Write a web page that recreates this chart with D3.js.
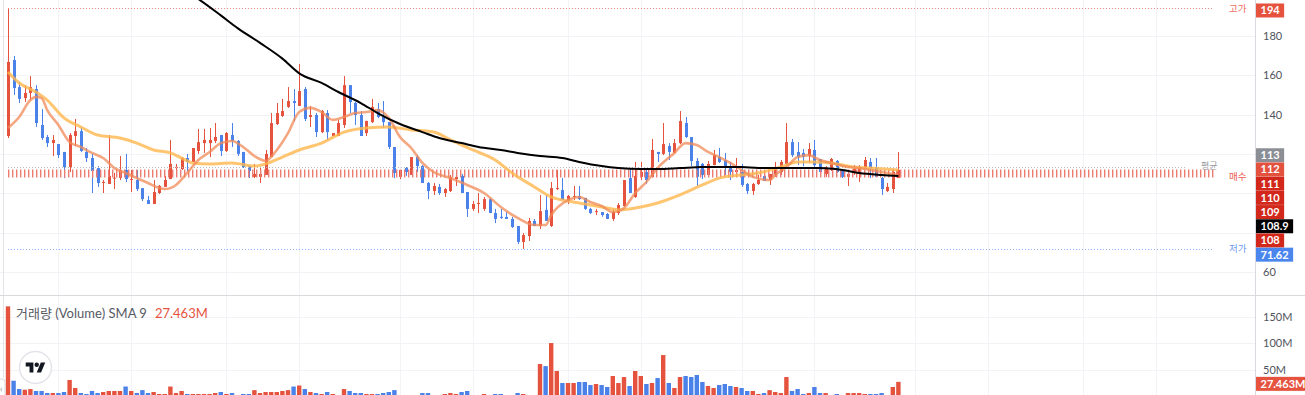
<!DOCTYPE html>
<html>
<head>
<meta charset="utf-8">
<script src="https://cdn.jsdelivr.net/npm/d3@7"></script>
<style>
  body { margin: 0; background: #fff; }
  svg { display: block; font-family: Lato, "Noto Sans CJK KR", sans-serif; }
</style>
</head>
<body>
<svg id="chart" width="1305" height="395"></svg>
<script>
// daily candles, oldest first
const opens = [
  129.1,167.8,154,148.4,151,153,134.7,128.6,125.5,125,
  121,113.3,129.1,131.6,121,117.9,112.8,105.2,104.7,107.5,
  107.8,111.8,106.7,106.7,102.6,96.5,94.5,100.1,103.2,107.2,
  112.8,112.3,117.9,115.9,121.5,125.5,125.5,126.6,129.6,121.5,
  129.6,126.6,121,113.8,108.3,108.3,109.3,118.4,135.2,139.3,
  143.9,146.9,144.4,153,138.8,139.8,131.1,140.8,129.1,129.1,
  134.7,155,145.9,139.8,130.6,136.2,142.8,138.8,136.2,123.5,
  108.3,112.8,109.3,118.4,113.8,105.2,101.1,103.2,100.1,101.1,
  107.2,108.8,100.6,92,94.5,92,97,89.9,88,87.9,
  86.9,83.3,75.2,78.2,85.9,83.3,91.5,83.3,102.1,101.6,
  96.5,98.1,98.6,97.6,92,90.4,90.4,89.4,86.9,89.9,
  93.5,107.7,98.1,108.3,110.8,108.3,121,120,124,120.5,
  125.5,135.7,128.6,116.4,114.9,109.3,114.3,118.4,116.9,113.3,
  110.8,110.8,104.7,101.1,104.7,108.8,106.7,109.3,110.8,114.9,
  126,121,120.5,118.9,122,117.4,109.8,111.8,116.4,111.3,
  108.3,110.8,109.8,113.3,115.9,112.8,107.7,101.1,102.1,107.7
];
const highs = [
  194,169.8,156.6,155,159.6,155,142.8,129.6,129.6,125,
  121,130.6,137.8,133.7,123,120,113.8,106.7,129.6,110.3,
  118.9,120,111.8,111.8,102.6,98.6,106.7,104.2,108.8,127.1,
  114.9,118.4,120,123,132.7,132.7,133.2,135.7,129.6,131.1,
  135.7,127.1,121,114.3,114.9,112.8,122,140.8,145.9,148,
  154,153,165.8,154,144.4,140.8,142.3,142.3,130.6,137.3,
  159.6,155,146.4,141.8,136.8,148,145.9,146.9,136.2,123.5,
  111.8,113.3,118.4,119.4,114.3,105.7,105.2,104.7,102.6,109.3,
  110.3,109.8,100.6,96,100.1,98.1,97.6,92,92,90.4,
  87.9,83.3,79.7,87.4,86.9,99.1,99.1,105.7,111.8,107.7,
  99.1,103.7,103.7,97.6,92.5,92,90.4,89.9,92,95,
  106.7,112.8,115.9,115.9,112.3,127.6,121,135.7,125.5,127.6,
  141.8,138.8,128.6,117.9,115.4,116.4,122,123,120.5,115.9,
  117.9,114.9,105.2,105.2,109.3,108.8,109.8,115.9,116.9,135.7,
  127.6,126,122.5,125.5,127.1,117.4,113.8,117.9,116.9,111.3,
  110.8,114.3,114.3,118.4,117.9,117.9,108.3,105.2,112.3,121
];
const lows = [
  128.1,150,145.9,146.4,147.4,133.7,127.1,123.5,118.9,117.9,
  107.7,110.8,124,121,115.9,100.1,103.2,100.1,104.7,102.1,
  106.7,105.7,100.6,101.1,96,94.5,94.5,99.6,103.2,107.2,
  108.3,111.8,111.3,115.9,120,120.5,118.4,125.5,118.9,121,
  123.5,118.9,112.8,107.7,107.7,105.2,109.3,118.4,134.7,138.8,
  143.4,136.7,144.4,136.7,133.7,128.6,130.6,127.1,129.1,129.1,
  133.2,140.8,134.7,129.1,129.1,135.7,138.2,133.2,122.5,107.7,
  107.2,108.8,109.3,110.8,105.2,97,99.1,99.1,98.1,100.6,
  103.7,100.1,87.9,91,89.9,91,89.9,84.8,86.9,86.9,
  82.3,74.1,71.62,75.7,83.3,81.8,85.9,82.8,101.6,96.5,
  94.5,96.5,96.5,91.5,89.4,88.9,88,86.9,85.9,88.9,
  93,100.1,97.6,106.7,104.7,108,115.9,119.4,116.9,120.5,
  125,128.1,113.8,103.7,107.2,109.3,114.3,115.4,109.3,106.7,
  109.8,103.2,99.6,99.1,104.2,106.2,104.2,108.3,109.3,114.3,
  118.4,114.3,113.8,115.4,113.3,110.3,108.3,111.3,110.3,107.7,
  103.7,109.3,105.7,112.8,107.7,108.3,99.1,100.6,100.1,107.7
];
const closes = [
  166.8,153.5,148,151,154,135.7,128.1,125.5,127.1,119.4,
  113.3,129.6,131.6,121.5,117.9,111.3,105.2,105.7,108.8,107.9,
  111.8,107.2,107.2,102.1,97,94.5,100.6,103.7,106.7,114.9,
  113.3,117.9,115.9,123,126,127.1,127.1,128.6,121.5,130.6,
  126.6,120,113.3,111.3,109.8,109.8,120,135.7,140.8,141.8,
  146.9,145.9,152,137.8,139.8,131.1,141.8,131.1,130.6,135.7,
  155,146.4,139.8,129.1,136.8,143.9,138.8,136.2,123.5,110.3,
  111.8,110.8,118.4,113.8,105.2,101.1,103.7,100.1,102.1,108.3,
  108.3,100.1,92,94.5,95,97,89.9,86.9,87.4,86.9,
  82.8,75.2,78.7,85.9,83.3,90.9,85.9,102.6,102.6,96.5,
  98.6,98.6,97,92,89.9,90.9,88.9,86.9,90.4,94,
  106.7,100.1,108.8,110.8,106.7,122,120,125,121,125.5,
  136.7,128.6,116.4,108.3,109.3,114.9,119.4,115.9,112.8,110.8,
  111.8,104.2,101.1,104.7,106.7,106.2,109.8,113.3,115.9,126,
  119.4,118.4,118.4,122.5,114.3,110.8,113.3,117.4,110.8,108.3,
  109.8,112.3,112.8,116.9,112.8,108.3,102.1,103.2,110.8,111.8
];
// volume in millions
const volumes = [
  169,29.6,14,12.7,14,10.3,10.3,6.5,6.5,6.5,
  8.4,31,16,6.5,4.7,10.3,6.5,8.4,10.3,10.3,
  10.3,18.7,10.3,6.5,12,6.5,8.4,4.7,4.7,18.7,
  6.5,10.3,4.7,4.7,4.7,4.7,4.7,6.5,8.4,4.7,
  6.5,2,4.7,4.7,12,6.5,8.4,8.4,8.4,10.3,
  12,18.7,20.6,14,8.4,6.5,4.7,8.4,4.7,2,
  14,10.3,6.5,6.5,4.7,4.7,4.7,6.5,8.4,12,
  1.5,1.5,1.5,1.5,6.5,6.5,1.5,1.5,4.7,6.5,
  4.7,8.4,10.3,1.5,1.5,4.7,1.5,4.7,4.7,1.5,
  1.5,6.5,4.7,1.5,1.5,60.9,57,100.2,47.8,25.3,
  25.3,25.3,27.2,27.2,21.5,23.4,21.5,17.8,38.4,25.3,
  36.5,19.7,47.8,38.4,23.4,25.3,34.6,77.7,25.3,15.9,
  36.5,38.4,36.5,40.3,27.2,19.7,15.9,21.5,23.4,19.7,
  17.8,15.9,10.3,10.3,4.7,6.5,12,8.4,6.5,36.5,
  10.3,14,4.7,6.5,17.8,6.5,6.5,2,4.7,2,
  6.5,6.5,6.5,4.7,4.7,4.7,6.5,2,17.8,27.463
];

// moving averages: [bar number, price]
const maShort = [[1,133.2],[3,138.8],[5,147.4],[6,149],[7,148.4],[8,142.3],[10,134.7],[12,126],[14,123.5],[16,120.5],[18,117.9],[20,112.8],[22,110.3],[24,107.7],[26,105.2],[28,102.6],[29,102.1],[31,104.2],[33,110.3],[35,116.9],[37,121],[39,125.5],[41,126.6],[43,123.5],[45,118.9],[47,116.4],[49,122],[51,130.6],[53,141.3],[55,143.4],[57,141.3],[59,137.3],[61,138.8],[63,140.8],[65,141.3],[67,142.3],[69,138.3],[71,128.6],[73,123],[75,115.4],[77,110.8],[80,107.7],[83,104.2],[86,100.1],[89,93],[92,87.4],[95,83.8],[97,83.8],[98,88.9],[101,96.5],[103,98.1],[105,95.5],[107,93.5],[109,90.4],[111,92.5],[113,100.1],[115,105.7],[117,112.8],[120,120.5],[122,125.5],[124,124.5],[126,121],[128,118.4],[130,115.4],[132,111.8],[134,108.3],[137,106.7],[138,109.3],[140,113.3],[142,118.4],[144,119.4],[146,116.9],[148,115.4],[151,113.3],[153,112.8],[155,111.8],[158,110.3],[160,109.3]];
const maMid = [[1,161.7],[3,156.1],[6,151.5],[8,147.4],[11,138.3],[14,133.7],[17,129.6],[21,128.1],[24,125.5],[27,122],[30,120.5],[32,117.9],[34,115.4],[37,114.9],[41,115.4],[45,113.8],[47,114.9],[50,118.4],[53,122],[57,125.5],[61,131.1],[65,133.2],[69,133.7],[73,132.2],[77,131.1],[80,127.1],[84,122],[88,116.9],[91,110.3],[95,103.2],[98,98.1],[102,95.5],[105,94],[108,92.5],[110,91.5],[114,93],[117,95],[121,99.1],[125,104.2],[128,107.7],[132,109.3],[135,110.3],[139,113.3],[142,115.9],[145,115.9],[148,115.4],[152,113.3],[155,112.8],[160,111.8]];
const maLong = [[33,202.5],[35,198.8],[39,190.5],[42,184],[46,176.5],[50,168.5],[53,161],[57,156.1],[60,151.5],[64,145.9],[67,140.8],[71,135.2],[75,131.1],[78,128.1],[82,125.5],[85,123.5],[89,122],[92,120.5],[96,118.9],[100,117.9],[103,115.9],[107,113.8],[110,112.8],[114,112.3],[117,112.3],[121,112.8],[125,113.3],[128,113.3],[132,113.3],[135,112.8],[139,112.8],[142,112.8],[146,112.8],[150,111.8],[153,110.3],[157,109.3],[160,108.8]];

const priceTicks = [60, 80, 100, 120, 140, 160, 180];
const volumeTicks = [50, 100, 150];
const gridBars = [10, 23, 40, 53, 71, 84, 101, 114, 132, 145, 163, 176, 193, 206];

const highPrice = 194, lowPrice = 71.62, avgPrice = 113.3, buyPrice = 110;
const priceTags = ["113", "112", "111", "110", "109", "108.9", "108", "71.62"];
const tagKinds = ["avg", "last", "ma", "ma", "ma", "long", "ma", "low"];
const lastVolume = "27.463M";

const svg = d3.select("#chart");
const axisX = 1255, paneBottom = 295;
const up = "#e5533f", down = "#4a82e9";
const tagFill = { high: up, avg: "#8b8e95", last: "#e3523f", ma: "#d2281b", long: "#000", low: "#4a86ee" };

const x = d3.scaleLinear().domain([1, 160]).range([8, 898.4]);
const y = d3.scaleLinear().domain([60, 180]).range([271.8, 36]);
const yv = d3.scaleLinear().domain([0, 150]).range([396.5, 316.5]);
const px = v => Math.round(v) + 0.5;

const bars = d3.range(closes.length).map(i => ({
  i: i + 1, o: opens[i], h: highs[i], l: lows[i], c: closes[i], v: volumes[i]
}));

// where the stacked price tags sit on the axis
const tagCenters = [y(highPrice) + 2];
const stackTop = y(avgPrice) - 11.8;
priceTags.forEach((p, k) => tagCenters.push(stackTop + k * 14.2));
const shownTicks = priceTicks.filter(t => tagCenters.every(c => Math.abs(c - y(t)) > 12));

const defs = svg.append("defs");
defs.append("clipPath").attr("id", "mainClip")
  .append("rect").attr("width", axisX).attr("height", paneBottom);
defs.append("clipPath").attr("id", "volClip")
  .append("rect").attr("y", paneBottom + 1).attr("width", axisX).attr("height", 395 - paneBottom);

// grid
const grid = svg.append("g");
grid.selectAll("line.vg").data(gridBars).join("line").attr("class", "vg")
  .attr("x1", d => px(x(d))).attr("x2", d => px(x(d)))
  .attr("y1", 0).attr("y2", 395)
  .attr("stroke", "#f2f3f6");
grid.selectAll("line.hg").data(priceTicks).join("line").attr("class", "hg")
  .attr("x1", 0).attr("x2", axisX)
  .attr("y1", d => px(y(d))).attr("y2", d => px(y(d)))
  .attr("stroke", "#f2f3f6");
grid.selectAll("line.vgh").data(volumeTicks).join("line").attr("class", "vgh")
  .attr("x1", 0).attr("x2", axisX)
  .attr("y1", d => px(yv(d))).attr("y2", d => px(yv(d)))
  .attr("stroke", "#f2f3f6");

// left border
svg.append("line").attr("x1", 3.5).attr("x2", 3.5).attr("y1", 0).attr("y2", 378)
  .attr("stroke", "#e4e5e8");

// candles
const main = svg.append("g").attr("clip-path", "url(#mainClip)");
const candle = main.selectAll("g.candle").data(bars).join("g").attr("class", "candle");
candle.append("line")
  .attr("x1", d => px(x(d.i))).attr("x2", d => px(x(d.i)))
  .attr("y1", d => y(d.h)).attr("y2", d => y(d.l))
  .attr("stroke", d => d.c >= d.o ? up : down);
candle.append("rect")
  .attr("x", d => Math.round(x(d.i)) - 1)
  .attr("width", 3)
  .attr("y", d => y(Math.max(d.o, d.c)))
  .attr("height", d => Math.max(1, Math.abs(y(d.o) - y(d.c))))
  .attr("fill", d => d.c >= d.o ? up : down);

// reference lines
const lineEnd = 1214;
main.append("line").attr("x1", x(1)).attr("x2", lineEnd)
  .attr("y1", px(y(highPrice))).attr("y2", px(y(highPrice)))
  .attr("stroke", "#ef8a80").attr("stroke-dasharray", "1,2");
main.append("line").attr("x1", x(1)).attr("x2", lineEnd)
  .attr("y1", px(y(lowPrice))).attr("y2", px(y(lowPrice)))
  .attr("stroke", "#8fb1f2").attr("stroke-dasharray", "1,2");
main.append("line").attr("x1", x(1)).attr("x2", 1187)
  .attr("y1", px(y(avgPrice))).attr("y2", px(y(avgPrice)))
  .attr("stroke", "#b9bbc0").attr("stroke-dasharray", "1,2");
main.append("line").attr("x1", x(1)).attr("x2", lineEnd)
  .attr("y1", y(buyPrice)).attr("y2", y(buyPrice))
  .attr("stroke", "#ec7b72").attr("stroke-width", 8).attr("stroke-dasharray", "1.4,2.6");

// moving averages
const maLine = d3.line().x(d => x(d[0])).y(d => y(d[1])).curve(d3.curveMonotoneX);
main.append("path").attr("d", maLine(maMid))
  .attr("fill", "none").attr("stroke", "#ffb74d").attr("stroke-width", 3).attr("stroke-opacity", 0.8);
main.append("path").attr("d", maLine(maShort))
  .attr("fill", "none").attr("stroke", "#f08a55").attr("stroke-width", 2.6).attr("stroke-opacity", 0.75);
main.append("path").attr("d", maLine(maLong))
  .attr("fill", "none").attr("stroke", "#000").attr("stroke-width", 2);

// line captions
const cap = svg.append("g").attr("font-size", 9.5).attr("dominant-baseline", "middle");
cap.append("text").attr("x", 1229).attr("y", y(highPrice) + 1.5).attr("fill", "#ef6f63").text("고가");
cap.append("text").attr("x", 1229).attr("y", y(lowPrice) + 1).attr("fill", "#6d9cf0").text("저가");
cap.append("text").attr("x", 1229).attr("y", y(buyPrice) + 4.5).attr("fill", "#ea5d50").text("매수");
cap.append("text").attr("x", 1201).attr("y", y(avgPrice)).attr("fill", "#9a9ca3").attr("font-size", 9).text("평균");

// volume
const vol = svg.append("g").attr("clip-path", "url(#volClip)");
vol.selectAll("rect").data(bars).join("rect")
  .attr("x", d => x(d.i) - 2.2).attr("width", 4.4)
  .attr("y", d => yv(d.v)).attr("height", d => yv(0) - yv(d.v))
  .attr("fill", d => d.c >= d.o ? up : down);

// pane separator and axis border
svg.append("line").attr("x1", 0).attr("x2", 1305).attr("y1", paneBottom + 0.5).attr("y2", paneBottom + 0.5)
  .attr("stroke", "#d9dadd");
svg.append("line").attr("x1", axisX + 0.5).attr("x2", axisX + 0.5).attr("y1", 0).attr("y2", 395)
  .attr("stroke", "#d9dadf");

// axes (labels hidden behind the tags are left out)
const yAxis = svg.append("g").attr("transform", `translate(${axisX},0)`)
  .call(d3.axisRight(y).tickValues(shownTicks).tickSize(0).tickPadding(8));
const vAxis = svg.append("g").attr("transform", `translate(${axisX},0)`)
  .call(d3.axisRight(yv).tickValues(volumeTicks).tickSize(0).tickPadding(8).tickFormat(d => d + "M"));
[yAxis, vAxis].forEach(a => {
  a.select(".domain").remove();
  a.selectAll("text").attr("fill", "#50535c").attr("font-size", 11)
    .attr("font-family", "Lato, sans-serif");
});

// price tags
function tag(label, cy, fill) {
  const g = svg.append("g");
  const r = g.append("rect").attr("x", axisX + 1).attr("y", cy - 7).attr("height", 14).attr("fill", fill);
  const t = g.append("text").attr("x", axisX + 5.5).attr("y", cy).attr("dy", "0.36em")
    .attr("fill", "#fff").attr("font-size", 11).attr("font-weight", 700).text(label);
  r.attr("width", t.node().getComputedTextLength() + 9);
}
tag(String(highPrice), tagCenters[0], tagFill.high);
priceTags.forEach((p, k) => tag(p, tagCenters[k + 1], tagFill[tagKinds[k]]));
tag(lastVolume, yv(parseFloat(lastVolume)) + 2, up);

// volume title
const title = svg.append("text").attr("x", 16).attr("y", 318).attr("font-size", 13);
title.append("tspan").attr("fill", "#575a63").text("거래량 (Volume) SMA 9");
title.append("tspan").attr("dx", 8).attr("fill", "#e5533f").text(lastVolume);

// logo badge
const logo = svg.append("g");
logo.append("circle").attr("cx", 35.5).attr("cy", 367.5).attr("r", 16)
  .attr("fill", "#fff").attr("stroke", "#e2e4ea").attr("stroke-width", 1.5);
const mark = logo.append("g").attr("transform", "translate(25.7,360.4) scale(0.55)").attr("fill", "#131722");
mark.append("path").attr("d", "M14 22H7V11H0V4h14v18zM28 22h-8l7.5-18h8L28 22z");
mark.append("circle").attr("cx", 20).attr("cy", 8).attr("r", 4);

// collapse handle
svg.append("rect").attr("x", -4).attr("y", 379).attr("width", 9).attr("height", 20).attr("rx", 3)
  .attr("fill", "#fff").attr("stroke", "#d5d6da");
svg.append("text").attr("x", 0).attr("y", 392).attr("font-size", 9).attr("fill", "#888").text("‹");
</script>
</body>
</html>
